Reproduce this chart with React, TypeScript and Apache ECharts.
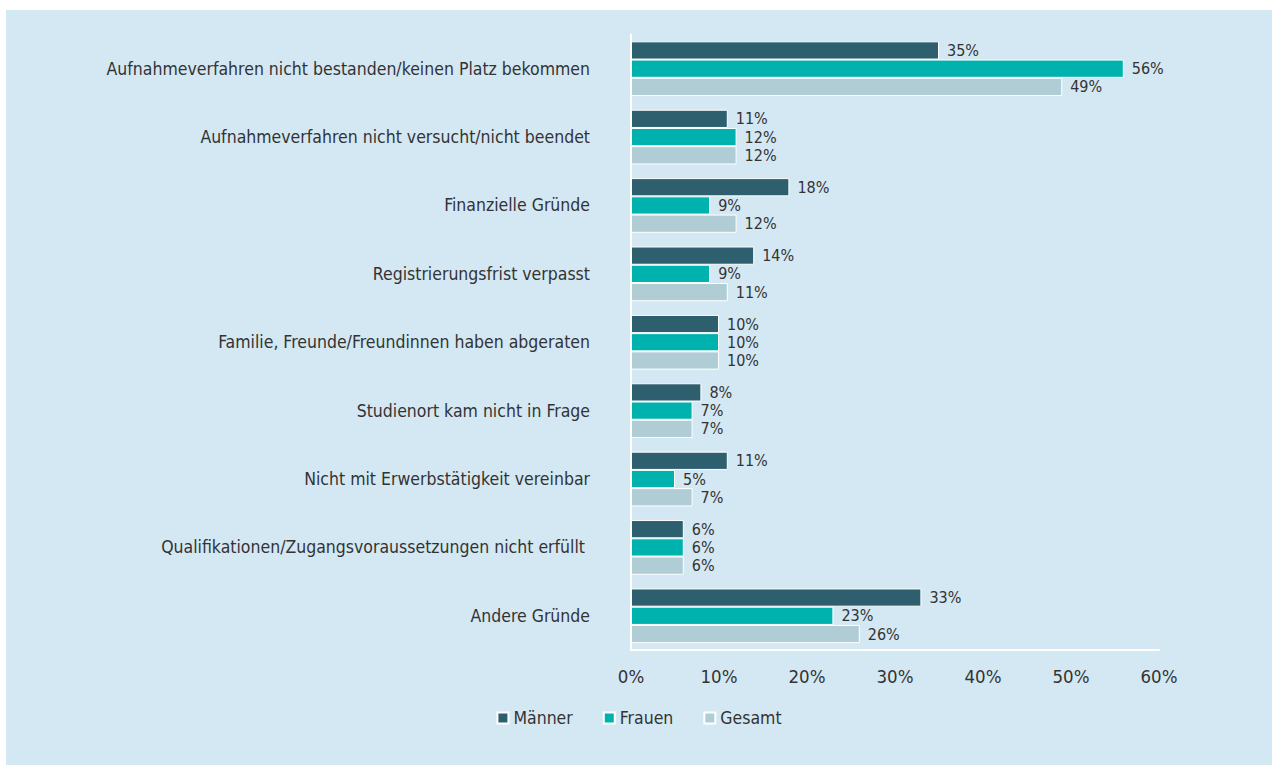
import React, { useEffect, useRef } from "react";
import * as echarts from "echarts";

const categories = [
  "Aufnahmeverfahren nicht bestanden/keinen Platz bekommen",
  "Aufnahmeverfahren nicht versucht/nicht beendet",
  "Finanzielle Gründe",
  "Registrierungsfrist verpasst",
  "Familie, Freunde/Freundinnen haben abgeraten",
  "Studienort kam nicht in Frage",
  "Nicht mit Erwerbstätigkeit vereinbar",
  "Qualifikationen/Zugangsvoraussetzungen nicht erfüllt ",
  "Andere Gründe",
];
const maenner = [35, 11, 18, 14, 10, 8, 11, 6, 33];
const frauen = [56, 12, 9, 9, 10, 7, 5, 6, 23];
const gesamt = [49, 12, 12, 11, 10, 7, 7, 6, 26];
const xTicks = { min: 0, max: 60, interval: 10 };

const FONT = "'DejaVu Sans Condensed', 'Liberation Sans Narrow', sans-serif";
const TEXT = "#333333";

export default function App() {
  const ref = useRef<HTMLDivElement>(null);
  useEffect(() => {
    if (!ref.current) return;
    const chart = echarts.init(ref.current, undefined, { renderer: "svg" });
    const mk = (name: string, data: number[], color: string) => ({
      name,
      type: "bar",
      data,
      barGap: "0%",
      barCategoryGap: "20%",
      itemStyle: { color, borderColor: "#ffffff", borderWidth: 1 },
      label: {
        show: true,
        position: "right",
        distance: 8,
        formatter: "{c}%",
        color: TEXT,
        fontFamily: FONT,
        fontSize: 16,
      },
    });
    chart.setOption({
      animation: false,
      backgroundColor: "#d3e8f3",
      textStyle: { fontFamily: FONT },
      grid: { left: 625, right: 113, top: 24.5, bottom: 115, containLabel: false },
      xAxis: {
        type: "value",
        min: xTicks.min,
        max: xTicks.max,
        interval: xTicks.interval,
        axisLine: { show: true, lineStyle: { color: "#ffffff", width: 2 } },
        axisTick: { show: false },
        splitLine: { show: false },
        axisLabel: {
          formatter: "{value}%",
          color: TEXT,
          fontFamily: FONT,
          fontSize: 18.5,
          margin: 17,
        },
      },
      yAxis: {
        type: "category",
        data: categories,
        inverse: true,
        axisLine: { show: true, lineStyle: { color: "#ffffff", width: 2 } },
        axisTick: { show: false },
        axisLabel: {
          color: TEXT,
          fontFamily: FONT,
          fontSize: 17.5,
          margin: 41,
        },
      },
      legend: {
        left: "center",
        top: 694,
        itemWidth: 11,
        itemHeight: 11,
        itemGap: 30,
        icon: "rect",
        textStyle: { color: TEXT, fontFamily: FONT, fontSize: 17.5 },
        data: ["Männer", "Frauen", "Gesamt"],
      },
      series: [
        mk("Männer", maenner, "#2d5f6e"),
        mk("Frauen", frauen, "#00b2ae"),
        mk("Gesamt", gesamt, "#b0cdd5"),
      ],
    });
    return () => chart.dispose();
  }, []);
  return (
    <div style={{ position: "absolute", left: 0, top: 0, width: 1272, height: 765, background: "#ffffff" }}>
      <div
        ref={ref}
        style={{ position: "absolute", left: 6, top: 10, width: 1266, height: 755 }}
      />
    </div>
  );
}
